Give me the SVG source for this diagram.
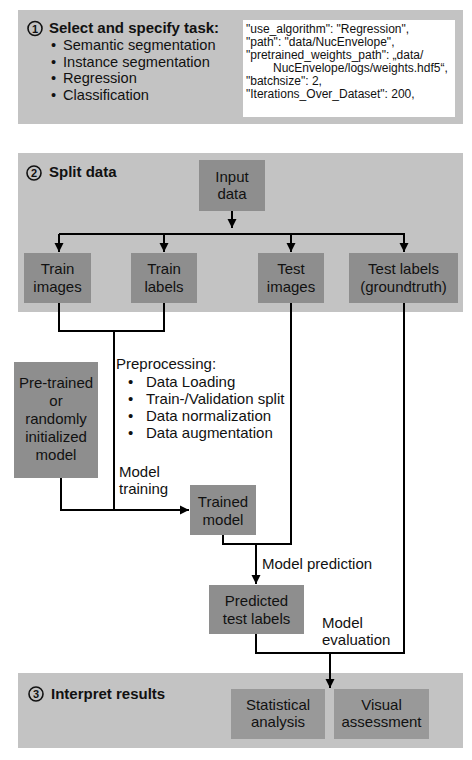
<svg xmlns="http://www.w3.org/2000/svg" width="472" height="760" viewBox="0 0 472 760">
<defs>
<style>
.panel{fill:#c3c3c3}
.box{fill:#8e8e8e}
.box3{fill:#999999}
.t{font-family:"Liberation Sans",Arial,Helvetica,sans-serif;font-size:15px;fill:#111}
.tl{font-family:"Liberation Sans",Arial,Helvetica,sans-serif;font-size:14.6px;fill:#111}
.n{font-family:"Liberation Sans",Arial,Helvetica,sans-serif;font-size:15px;fill:#111;text-anchor:middle}
.b{font-family:"Liberation Sans",Arial,Helvetica,sans-serif;font-size:15px;font-weight:bold;fill:#111}
.code{font-family:"Liberation Sans",Arial,Helvetica,sans-serif;font-size:12px;fill:#111}
.num{font-family:"Liberation Sans",Arial,Helvetica,sans-serif;font-size:11px;font-weight:bold;fill:#111;text-anchor:middle}
.circ{fill:none;stroke:#111;stroke-width:1.6}
.c{fill:none;stroke:#000;stroke-width:2}
</style>
<marker id="ah" markerUnits="userSpaceOnUse" markerWidth="10" markerHeight="10" refX="9" refY="5" orient="auto">
<path d="M0,0.5 L9,5 L0,9.5 z" fill="#000"/>
</marker>
</defs>
<rect width="472" height="760" fill="#ffffff"/>

<g id="panel1">
<rect class="panel" x="18" y="10" width="445" height="114"/>
<circle class="circ" cx="35" cy="28.5" r="7"/>
<text class="num" x="35" y="32.5">1</text>
<text class="b" x="49" y="33">Select and specify task:</text>
<text class="tl" x="51" y="50">•</text><text class="tl" x="63" y="50">Semantic segmentation</text>
<text class="tl" x="51" y="66.5">•</text><text class="tl" x="63" y="66.5">Instance segmentation</text>
<text class="tl" x="51" y="83">•</text><text class="tl" x="63" y="83">Regression</text>
<text class="tl" x="51" y="99.5">•</text><text class="tl" x="63" y="99.5">Classification</text>
<g id="config">
<rect x="243" y="20" width="212" height="97" fill="#ffffff"/>
<text class="code" x="246" y="32.5">"use_algorithm": "Regression",</text>
<text class="code" x="246" y="45.5">"path": "data/NucEnvelope",</text>
<text class="code" x="246" y="58.5">"pretrained_weights_path": „data/</text>
<text class="code" x="273" y="71.5">NucEnvelope/logs/weights.hdf5“,</text>
<text class="code" x="246" y="84.5">"batchsize": 2,</text>
<text class="code" x="246" y="97.5">"Iterations_Over_Dataset": 200,</text>
</g>
</g>

<g id="panel2">
<rect class="panel" x="18" y="153" width="445" height="159"/>
<circle class="circ" cx="34" cy="173" r="7"/>
<text class="num" x="34" y="177">2</text>
<text class="b" x="49" y="177">Split data</text>
</g>

<g id="panel3">
<rect class="panel" x="18" y="673" width="445" height="75"/>
<circle class="circ" cx="36" cy="694" r="7"/>
<text class="num" x="36" y="698">3</text>
<text class="b" x="51" y="699">Interpret results</text>
</g>

<g id="connectors">
<path class="c" d="M232,211 V228" marker-end="url(#ah)"/>
<path class="c" d="M59,234 H405"/>
<path class="c" d="M59,234 V252" marker-end="url(#ah)"/>
<path class="c" d="M164,234 V252" marker-end="url(#ah)"/>
<path class="c" d="M291,234 V252" marker-end="url(#ah)"/>
<path class="c" d="M404,234 V252" marker-end="url(#ah)"/>
<path class="c" d="M59,303 V331 H164 V303"/>
<path class="c" d="M114,331 V510"/>
<path class="c" d="M61,478 V510 H189" marker-end="url(#ah)"/>
<path class="c" d="M223,535 V544 H291 V303"/>
<path class="c" d="M256,544 V584" marker-end="url(#ah)"/>
<path class="c" d="M256,634 V653 H404 V303"/>
<path class="c" d="M330,653 V688" marker-end="url(#ah)"/>
</g>

<g id="labels">
<text class="t" x="116" y="369">Preprocessing:</text>
<text class="t" x="128" y="387">•</text><text class="t" x="146" y="387">Data Loading</text>
<text class="t" x="128" y="404">•</text><text class="t" x="146" y="404">Train-/Validation split</text>
<text class="t" x="128" y="421">•</text><text class="t" x="146" y="421">Data normalization</text>
<text class="t" x="128" y="438">•</text><text class="t" x="146" y="438">Data augmentation</text>
<text class="t" x="119" y="477">Model</text>
<text class="t" x="119" y="494">training</text>
<text class="t" x="262" y="569">Model prediction</text>
<text class="t" x="322" y="628">Model</text>
<text class="t" x="322" y="645">evaluation</text>
</g>

<g id="input-data">
<rect class="box" x="199" y="160" width="66" height="51"/>
<text class="n" x="232" y="182">Input</text>
<text class="n" x="232" y="199">data</text>
</g>
<g id="train-images">
<rect class="box" x="24" y="253" width="67" height="50"/>
<text class="n" x="57.5" y="274">Train</text>
<text class="n" x="57.5" y="292">images</text>
</g>
<g id="train-labels">
<rect class="box" x="131" y="253" width="66" height="50"/>
<text class="n" x="164" y="274">Train</text>
<text class="n" x="164" y="292">labels</text>
</g>
<g id="test-images">
<rect class="box" x="258" y="253" width="66" height="50"/>
<text class="n" x="291" y="274">Test</text>
<text class="n" x="291" y="292">images</text>
</g>
<g id="test-labels">
<rect class="box" x="349" y="253" width="109" height="50"/>
<text class="n" x="403.5" y="274">Test labels</text>
<text class="n" x="403.5" y="292">(groundtruth)</text>
</g>
<g id="model">
<rect class="box" x="14" y="362" width="84" height="116"/>
<text class="n" x="56" y="388">Pre-trained</text>
<text class="n" x="56" y="406">or</text>
<text class="n" x="56" y="424">randomly</text>
<text class="n" x="56" y="442">initialized</text>
<text class="n" x="56" y="460">model</text>
</g>
<g id="trained-model">
<rect class="box" x="190" y="485" width="66" height="50"/>
<text class="n" x="223" y="507">Trained</text>
<text class="n" x="223" y="525">model</text>
</g>
<g id="predicted">
<rect class="box" x="209" y="585" width="95" height="49"/>
<text class="n" x="256.5" y="606">Predicted</text>
<text class="n" x="256.5" y="624">test labels</text>
</g>
<g id="statistical">
<rect class="box3" x="231" y="689" width="94" height="50"/>
<text class="n" x="278" y="710">Statistical</text>
<text class="n" x="278" y="727">analysis</text>
</g>
<g id="visual">
<rect class="box3" x="334" y="689" width="95" height="50"/>
<text class="n" x="381.5" y="710">Visual</text>
<text class="n" x="381.5" y="727">assessment</text>
</g>
</svg>
